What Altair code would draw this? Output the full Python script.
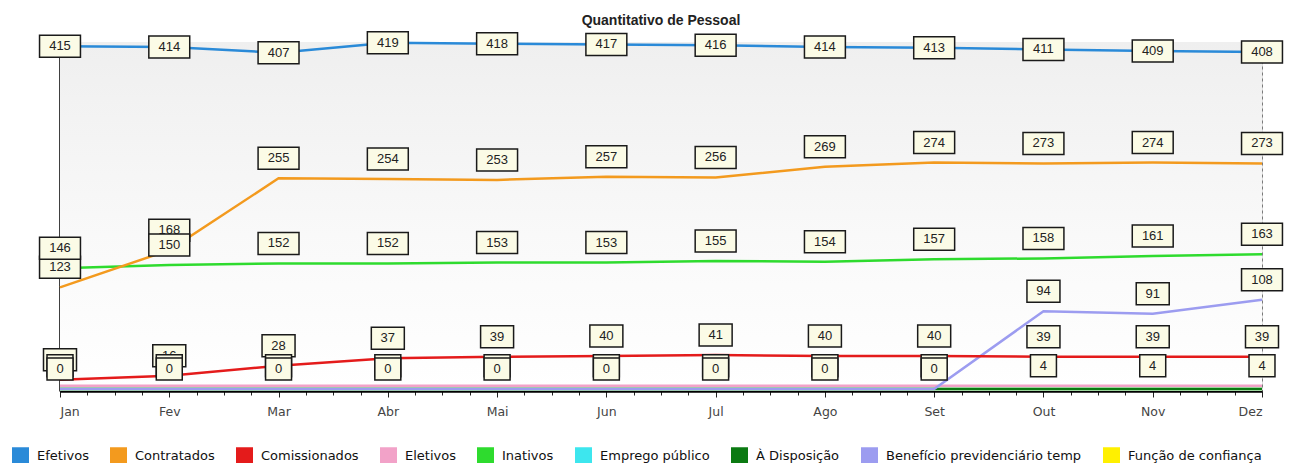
import altair as alt
import pandas as pd

months = ["Jan", "Fev", "Mar", "Abr", "Mai", "Jun", "Jul", "Ago", "Set", "Out", "Nov", "Dez"]

series_names = ["Efetivos", "Contratados", "Comissionados", "Eletivos", "Inativos",
                "Emprego público", "À Disposição", "Benefício previdenciário temp",
                "Função de confiança"]
series_colors = ["#2a8ad8", "#f39a1e", "#e41b1b", "#f2a2c8", "#2edb2e",
                 "#3de6ee", "#0b7a12", "#9c9cf0", "#fff000"]

efetivos = [415, 414, 407, 419, 418, 417, 416, 414, 413, 411, 409, 408]
contratados = [123, 168, 255, 254, 253, 257, 256, 269, 274, 273, 274, 273]
comissionados = [11, 16, 28, 37, 39, 40, 41, 40, 40, 39, 39, 39]
eletivos = [4, 4, 4, 4, 4, 4, 4, 4, 4, 4, 4, 4]
inativos = [146, 150, 152, 152, 153, 153, 155, 154, 157, 158, 161, 163]
emprego_publico = [0, 0, 0, 0, 0, 0, 0, 0, 0, 0, 0, 0]
a_disposicao = [0, 0, 0, 0, 0, 0, 0, 0, 0, 0, 0, 0]
beneficio = [0, 0, 0, 0, 0, 0, 0, 0, 0, 94, 91, 108]
funcao_confianca = [0, 0, 0, 0, 0, 0, 0, 0, 0, 0, 0, 0]

values = {
    "Efetivos": efetivos,
    "Contratados": contratados,
    "Comissionados": comissionados,
    "Eletivos": eletivos,
    "Inativos": inativos,
    "Emprego público": emprego_publico,
    "À Disposição": a_disposicao,
    "Benefício previdenciário temp": beneficio,
    "Função de confiança": funcao_confianca,
}

draw_order = ["Função de confiança", "Emprego público", "À Disposição", "Eletivos",
              "Benefício previdenciário temp", "Comissionados", "Inativos",
              "Contratados", "Efetivos"]
label_order = ["Contratados", "Inativos", "Comissionados", "Eletivos",
               "Benefício previdenciário temp", "Efetivos"]

rows = []
for name in series_names:
    for i, m in enumerate(months):
        rows.append({"serie": name, "mes": i, "mes_nome": m, "valor": values[name][i]})
df = pd.DataFrame(rows)

tick_values = [q / 4 for q in range(0, 45)]
month_js = "[" + ",".join("'%s'" % m for m in months) + "]"
is_month = "datum.value % 1 === 0"

x = alt.X(
    "mes:Q",
    title=None,
    scale=alt.Scale(domain=[0, 11], nice=False, zero=False),
    axis=alt.Axis(
        values=tick_values,
        labelExpr=f"{is_month} ? {month_js}[datum.value] : ''",
        labelOverlap=False,
        labelFont="DejaVu Sans",
        labelFontSize=12.5,
        labelColor="#444444",
        labelPadding=8,
        grid=True,
        gridDash=[3, 3],
        gridColor="#7a7a7a",
        gridWidth=1,
        gridOpacity={"condition": {"test": is_month, "value": 1}, "value": 0},
        tickSize={"condition": {"test": is_month, "value": 6}, "value": 4},
        tickColor="#222222",
        domainColor="#000000",
        domainWidth=2.5,
    ),
)
y = alt.Y(
    "valor:Q",
    title=None,
    scale=alt.Scale(domain=[-2.5, 420], nice=False, zero=False),
    axis=alt.Axis(labels=False, ticks=False, grid=False,
                  domainColor="#000000", domainWidth=2.5),
)

color_scale = alt.Scale(domain=series_names, range=series_colors)
legend_def = alt.Legend(
    title=None,
    orient="none",
    legendX=-48,
    legendY=405,
    direction="horizontal",
    columns=9,
    padding=0,
    symbolType="square",
    symbolSize=64,
    symbolStrokeWidth=9,
    symbolOpacity=1,
    symbolDash=[],
    labelFont="DejaVu Sans",
    labelFontSize=13,
    labelColor="#111111",
    labelOffset=8,
    labelLimit=400,
    columnPadding=7,
)

background = alt.Chart(pd.DataFrame({"bg": [0]})).mark_rect(
    color=alt.Gradient(
        gradient="linear", x1=0, y1=0, x2=0, y2=1,
        stops=[alt.GradientStop(offset=0, color="#efefef"),
               alt.GradientStop(offset=0.55, color="#f9f9f9"),
               alt.GradientStop(offset=1, color="#ffffff")],
    )
).encode(x=alt.value(0), x2=alt.value("width"), y=alt.value(0), y2=alt.value("height"))

base = alt.Chart(df).encode(x=x, y=y)

line_layers = []
for name in draw_order:
    line_layers.append(
        base.transform_filter(alt.datum.serie == name)
        .mark_line(strokeWidth=2.5)
        .encode(color=alt.Color("serie:N", scale=color_scale, legend=legend_def))
    )

box_paths = [
    "M-1.18,-1L1.18,-1L1.18,1L-1.18,1Z",
    "M-1.5,-1L1.5,-1L1.5,1L-1.5,1Z",
    "M-1.86,-1L1.86,-1L1.86,1L-1.86,1Z",
]

label_layers = []
for name in label_order:
    off = 0 if name == "Efetivos" else -20
    sub = base.transform_filter(alt.datum.serie == name).transform_calculate(
        nd="length(toString(datum.valor))"
    )
    box = sub.mark_point(
        filled=True, fill="#fbfbe6", stroke="#1a1a1a", strokeWidth=1.5,
        size=484, opacity=1, yOffset=off,
    ).encode(
        shape=alt.Shape("nd:O", scale=alt.Scale(domain=[1, 2, 3], range=box_paths),
                        legend=None)
    )
    txt = sub.mark_text(
        yOffset=off, font="Liberation Sans", fontSize=13, color="#222222",
        baseline="middle", align="center",
    ).encode(text="valor:Q")
    label_layers += [box, txt]

chart = alt.layer(background, *line_layers, *label_layers).properties(
    width=1202,
    height=349,
    title=alt.TitleParams(
        "Quantitativo de Pessoal", font="Liberation Sans", fontSize=14,
        fontWeight="bold", color="#222222", offset=1, anchor="middle",
        frame="group",
    ),
    autosize=alt.AutoSizeParams(type="none"),
    padding={"left": 52, "top": 34, "right": 22, "bottom": 72},
).configure_view(
    stroke="#555555",
    strokeWidth=1,
).configure(background="white")

chart.save("out.html", embed_options={"renderer": "svg", "actions": False})
